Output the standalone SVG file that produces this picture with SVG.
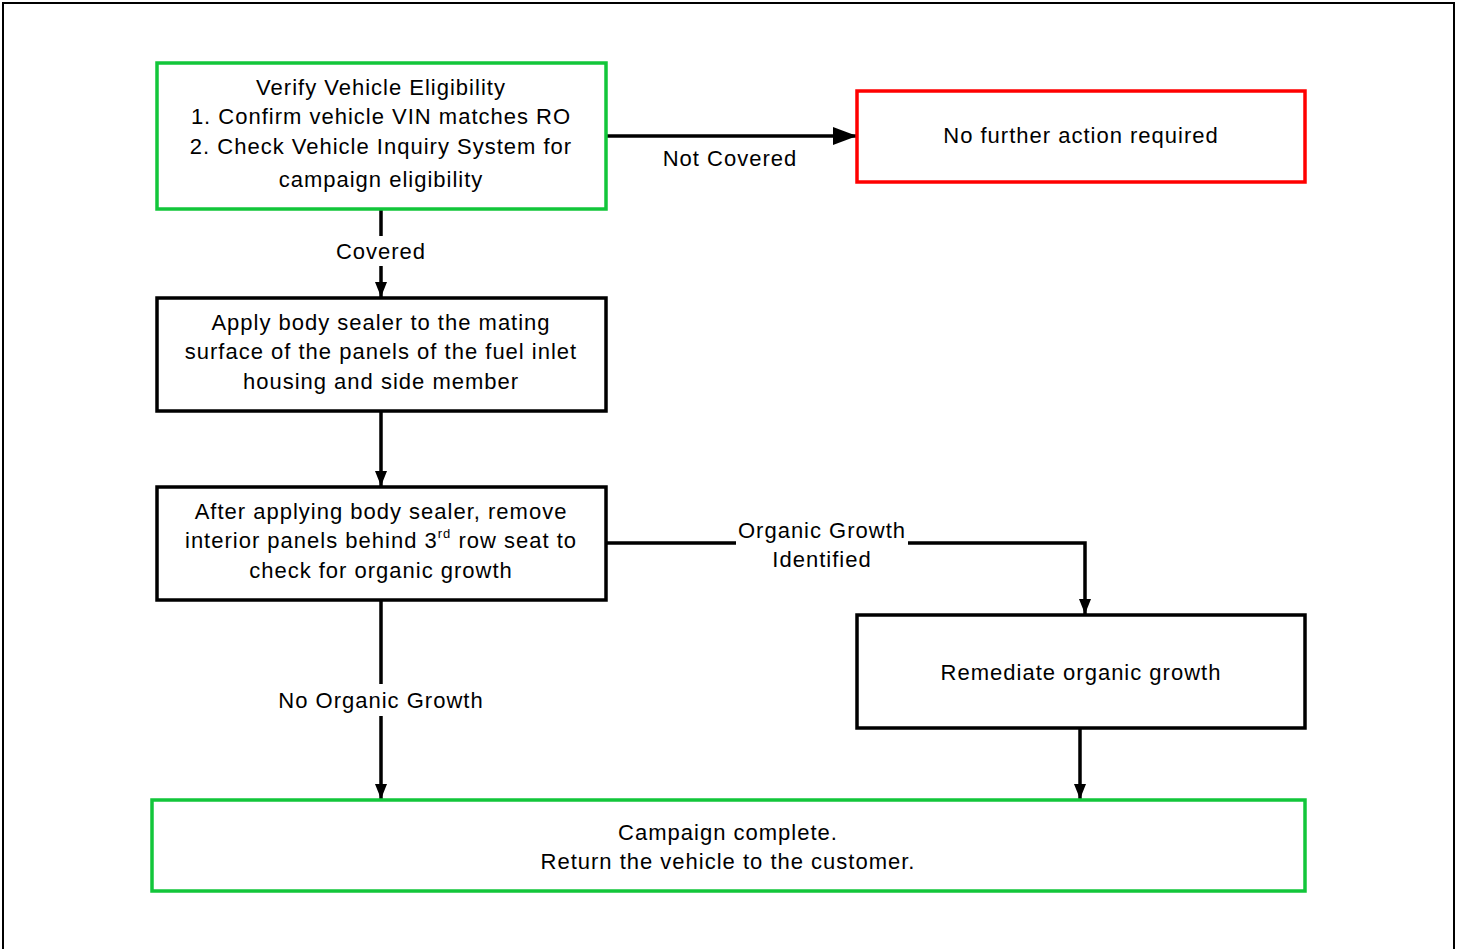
<svg xmlns="http://www.w3.org/2000/svg" width="1458" height="949" viewBox="0 0 1458 949">
<style>
text{font-family:"Liberation Sans",Arial,sans-serif;font-size:22px;letter-spacing:1px;fill:#000;text-anchor:middle}
.box{fill:#fff;stroke:#000;stroke-width:3.5}
.green{stroke:#12c63a}
.red{stroke:#ff0000}
.conn{fill:none;stroke:#000;stroke-width:3.5}
</style>
<defs>
<marker id="big" viewBox="0 0 24 18" refX="24" refY="9" markerWidth="24" markerHeight="18" markerUnits="userSpaceOnUse" orient="auto"><path d="M0,0L24,9L0,18Z" fill="#000"/></marker>
<marker id="sm" viewBox="0 0 15 12" refX="15" refY="6" markerWidth="15" markerHeight="12" markerUnits="userSpaceOnUse" orient="auto"><path d="M0,0L15,6L0,12Z" fill="#000"/></marker>
</defs>
<rect width="1458" height="949" fill="#fff"/>
<path d="M3,949V3H1454V949" fill="none" stroke="#000" stroke-width="2"/>
<g id="connectors">
<path class="conn" d="M606,136H857" marker-end="url(#big)"/>
<path class="conn" d="M381,209V236M381,266V297" marker-end="url(#sm)"/>
<path class="conn" d="M381,411V486" marker-end="url(#sm)"/>
<path class="conn" d="M606,543H736M908,543H1085V614" marker-end="url(#sm)"/>
<path class="conn" d="M381,600V684M381,716V799" marker-end="url(#sm)"/>
<path class="conn" d="M1080,728V799" marker-end="url(#sm)"/>
<text x="730" y="166">Not Covered</text>
<text x="381" y="259">Covered</text>
<text x="822" y="538">Organic Growth</text>
<text x="822" y="567">Identified</text>
<text x="381" y="708">No Organic Growth</text>
</g>
<g id="verify">
<rect class="box green" x="157" y="63" width="449" height="146"/>
<text x="381" y="95">Verify Vehicle Eligibility</text>
<text x="381" y="124">1. Confirm vehicle VIN matches RO</text>
<text x="381" y="154">2. Check Vehicle Inquiry System for</text>
<text x="381" y="187">campaign eligibility</text>
</g>
<g id="nofurther">
<rect class="box red" x="857" y="91" width="448" height="91"/>
<text x="1081" y="143">No further action required</text>
</g>
<g id="apply">
<rect class="box" x="157" y="298" width="449" height="113"/>
<text x="381" y="330">Apply body sealer to the mating</text>
<text x="381" y="359">surface of the panels of the fuel inlet</text>
<text x="381" y="389">housing and side member</text>
</g>
<g id="after">
<rect class="box" x="157" y="487" width="449" height="113"/>
<text x="381" y="519">After applying body sealer, remove</text>
<text x="381" y="548">interior panels behind 3<tspan font-size="13" dy="-10">rd</tspan><tspan dy="10"> row seat to</tspan></text>
<text x="381" y="578">check for organic growth</text>
</g>
<g id="remediate">
<rect class="box" x="857" y="615" width="448" height="113"/>
<text x="1081" y="680">Remediate organic growth</text>
</g>
<g id="complete">
<rect class="box green" x="152" y="800" width="1153" height="91"/>
<text x="728" y="840">Campaign complete.</text>
<text x="728" y="869">Return the vehicle to the customer.</text>
</g>
</svg>
